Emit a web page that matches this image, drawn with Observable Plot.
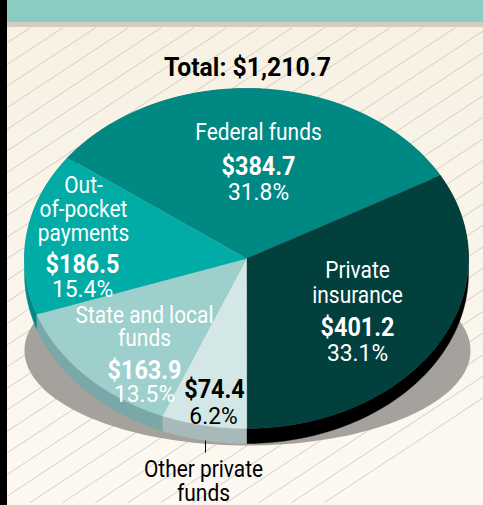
<!DOCTYPE html>
<html>
<head>
<meta charset="utf-8">
<script src="https://cdn.jsdelivr.net/npm/d3@7"></script>
<script src="https://cdn.jsdelivr.net/npm/@observablehq/plot@0.6"></script>
<style>
html,body{margin:0;padding:0;width:483px;height:505px;overflow:hidden;background:#000}
#page{position:absolute;left:7px;top:0;width:476px;height:505px;background:linear-gradient(#f7f1e3 0%,#fdf9f2 100%)}
#band{position:absolute;left:7px;top:0;width:476px;height:22px;background:#8accc2}
#strip{position:absolute;left:7px;top:22px;width:476px;height:5px;background:#d3ccc0}
#chart{position:absolute;left:0;top:0;width:483px;height:505px}
#bar{position:absolute;left:0;top:0;width:7px;height:505px;background:#000}
</style>
</head>
<body>
<div id="page"></div><div id="band"></div><div id="strip"></div><div id="chart"></div><div id="bar"></div>
<script>
// Data (clockwise from the Federal funds slice)
const categories = ["Federal funds", "Private insurance", "Other private funds", "State and local funds", "Out-of-pocket payments"];
const dollars = [384.7, 401.2, 74.4, 163.9, 186.5];
const percents = [31.8, 33.1, 6.2, 13.5, 15.4];
const total = 1210.7;
const startAngle = 306.3;

const topColors = ["#008883", "#01403d", "#d3e8e6", "#9dd0cd", "#00aca5"];
const sideColors = ["#006b67", "#000000", "#a7b9b9", "#7aa8a8", "#008a85"];
const inkColors = ["#fff", "#fff", "#000", "#fff", "#fff"];

const nameLines = [
  [["Federal funds", 258, 139]],
  [["Private", 357, 277], ["insurance", 357, 302]],
  [],
  [["State and local", 144, 322], ["funds", 144, 345]],
  [["Out-", 83, 192], ["of-pocket", 83, 216], ["payments", 83, 240]]
];
const valuePos = [[258, 174], [357, 335], [214, 397], [144, 378], [82, 272]];
const pctPos = [[258, 199], [357, 360], [213, 423], [144, 401], [82, 296]];

// Geometry
const cx = 246, cy = 258, rx = 222, ry = 170, depth = 15;
const shadow = {cx: 247, cy: 350, rx: 223, ry: 95};
const rad = d => d * Math.PI / 180;
const pt = (a, dy = 0) => ({x: cx + rx * Math.sin(rad(a)), y: cy - ry * Math.cos(rad(a)) + dy});

const sum = d3.sum(percents);
let acc = startAngle;
const slices = categories.map((name, i) => {
  const a0 = acc, a1 = acc + percents[i] / sum * 360;
  acc = a1;
  const arc = d3.range(0, 61).map(k => a0 + (a1 - a0) * k / 60);
  return {
    name, i,
    top: [{x: cx, y: cy}, ...arc.map(a => pt(a))],
    side: [...arc.map(a => pt(a)), ...arc.slice().reverse().map(a => pt(a, depth))]
  };
});

const shadowPts = d3.range(0, 181).map(k => {
  const a = rad(k * 2);
  return {x: shadow.cx + shadow.rx * Math.cos(a), y: shadow.cy + shadow.ry * Math.sin(a)};
});

const hatch = d3.range(-8, 32).map(k => {
  const x0 = 30 + k * 32.7;
  return {x1: x0, y1: 27, x2: x0 - 720, y2: 27 + 720 * 0.66};
});

const fontFamily = "Roboto,'Liberation Sans',sans-serif";
const nameRows = slices.flatMap((s, i) => nameLines[i].map(([t, x, y]) => ({t, x, y, i})));
const valueRows = dollars.map((v, i) => ({t: "$" + v.toFixed(1), x: valuePos[i][0], y: valuePos[i][1], i}));
const pctRows = percents.map((v, i) => ({t: v.toFixed(1) + "%", x: pctPos[i][0], y: pctPos[i][1], i}));

const textMark = (rows, opts) => Plot.text(rows, {
  x: "x", y: "y", text: "t", fill: d => inkColors[d.i], lineAnchor: "bottom",
  textAnchor: "middle", fontFamily, ...opts
});

const chart = Plot.plot({
  width: 483, height: 505, margin: 0,
  style: {background: "transparent"},
  x: {domain: [0, 483], range: [0, 483], axis: null},
  y: {domain: [0, 505], range: [0, 505], axis: null},
  color: {type: "identity"},
  marks: [
    Plot.link(hatch, {
      x1: "x1", y1: "y1", x2: "x2", y2: "y2",
      stroke: "#c2bdb2", strokeWidth: 0.7
    }),
    Plot.line(shadowPts, {x: "x", y: "y", fill: "#a5a29d", stroke: "none"}),
    ...slices.map(s => Plot.line(s.side, {x: "x", y: "y", fill: sideColors[s.i], stroke: sideColors[s.i], strokeWidth: 0.4})),
    ...slices.map(s => Plot.line(s.top, {x: "x", y: "y", fill: topColors[s.i], stroke: topColors[s.i], strokeWidth: 0.4})),
    Plot.link([{x: 205, y1: 440, y2: 452}], {x: "x", y1: "y1", y2: "y2", stroke: "#000", strokeWidth: 1}),
    Plot.text(["Total: $" + total.toLocaleString("en-US", {minimumFractionDigits: 1})], {
      x: [247], y: [75], text: d => d, fill: "#000", lineAnchor: "bottom", textAnchor: "middle",
      fontFamily, fontWeight: "bold", fontSize: 25, className: "sq-title"
    }),
    Plot.text(["Other private", "funds"], {
      x: [203, 203], y: [476, 500], text: d => d, fill: "#000", lineAnchor: "bottom", textAnchor: "middle",
      fontFamily, fontSize: 24, className: "sq-name"
    }),
    textMark(nameRows, {fontSize: 24, className: "sq-name"}),
    textMark(valueRows, {fontSize: 26, fontWeight: "bold", className: "sq-value"}),
    textMark(pctRows, {fontSize: 24, className: "sq-pct"})
  ]
});
document.getElementById("chart").appendChild(chart);

// Narrow the glyphs so the face reads as the reference's condensed type.
const squeeze = {"sq-title": 0.99, "sq-name": 0.87, "sq-value": 0.9, "sq-pct": 0.95};
for (const [cls, f] of Object.entries(squeeze)) {
  chart.querySelectorAll("." + cls + " text, text." + cls).forEach(t => {
    t.setAttribute("textLength", (t.getComputedTextLength() * f).toFixed(1));
    t.setAttribute("lengthAdjust", "spacingAndGlyphs");
  });
}
</script>
</body>
</html>
